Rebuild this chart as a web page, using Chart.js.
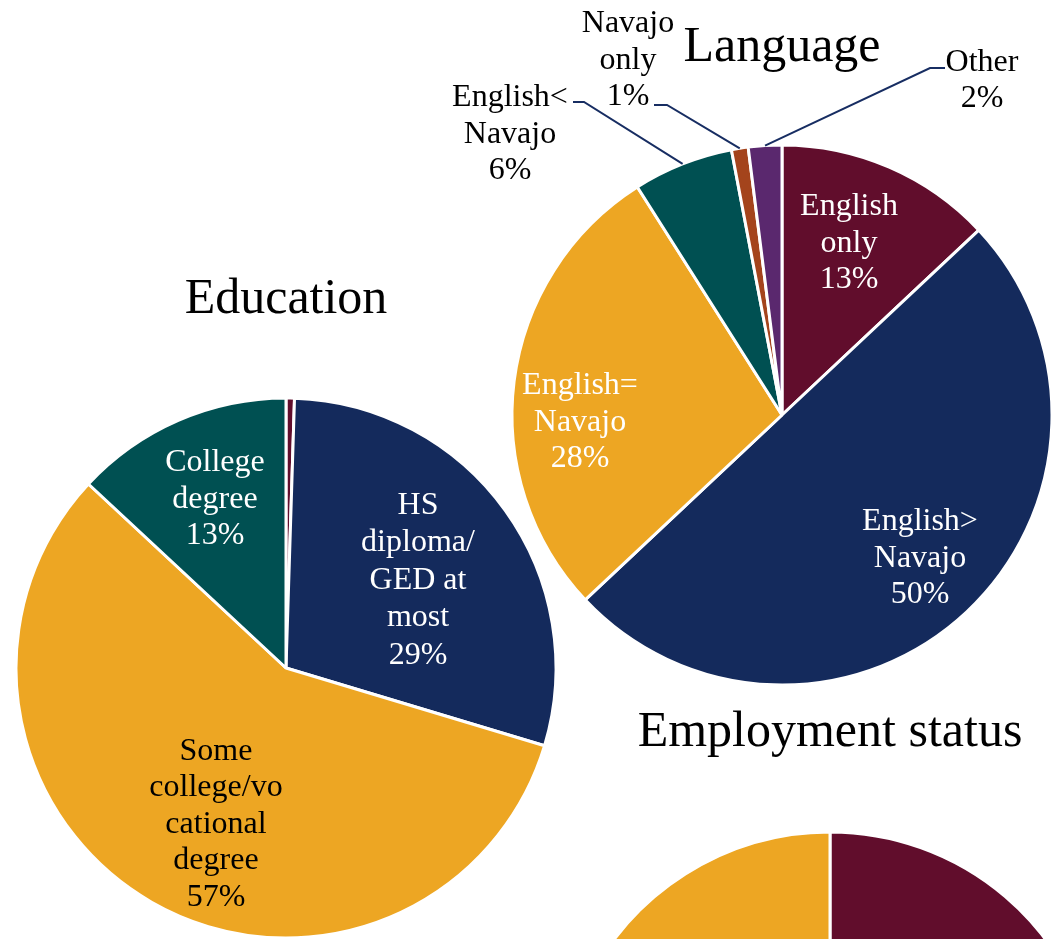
<!DOCTYPE html>
<html>
<head>
<meta charset="utf-8">
<title>Survey profile: language, education, employment</title>
<script src="https://cdn.jsdelivr.net/npm/chart.js@4.4.1/dist/chart.umd.min.js"></script>
<style>
  html, body { margin: 0; padding: 0; background: #ffffff; overflow: hidden; width: 1051px; height: 939px; }
  canvas { position: absolute; left: 0; top: 0; }
</style>
</head>
<body>
<canvas id="education" width="1051" height="939"></canvas>
<canvas id="language" width="1051" height="939"></canvas>
<canvas id="employment" width="1051" height="1400"></canvas>
<script>
// ---- data ----
const languageCategories = ['English only', 'English> Navajo', 'English= Navajo', 'English< Navajo', 'Navajo only', 'Other'];
const languageLines = [['English', 'only'], ['English>', 'Navajo'], ['English=', 'Navajo'], ['English<', 'Navajo'], ['Navajo', 'only'], ['Other']];
const languageValues = [13, 50, 28, 6, 1, 2];

const educationCategories = ['Less than HS', 'HS diploma/GED at most', 'Some college/vocational degree', 'College degree'];
const educationLines = [[], ['HS', 'diploma/', 'GED at', 'most'], ['Some', 'college/vo', 'cational', 'degree'], ['College', 'degree']];
const educationValues = [0.5, 29, 57, 13];

const employmentCategories = ['Employed', 'Unemployed', 'Not in labor force'];
const employmentLines = [['Employed'], ['Unemployed'], ['Not in', 'labor force']];
const employmentValues = [45, 19, 36];

// ---- palette ----
const WINE = '#610D2C', NAVY = '#142A5C', GOLD = '#EDA623', TEAL = '#005052', RUST = '#A4441C', PLUM = '#5A286E';
const WHITE = '#FFFFFF', BLACK = '#000000';
const SERIF = '"Liberation Serif", "Times New Roman", serif';

// Draws the chart title above the pie and the category / percent labels,
// with elbow leader lines for the labels placed outside the pie.
const pieText = {
  id: 'pieText',
  afterDatasetsDraw(chart, args, opts) {
    const ctx = chart.ctx;
    const meta = chart.getDatasetMeta(0);
    const values = chart.data.datasets[0].data;
    const first = meta.data[0];
    const cx = first.x, cy = first.y, R = first.outerRadius;
    ctx.save();
    ctx.textAlign = 'center';

    ctx.font = opts.titleSize + 'px ' + SERIF;
    ctx.fillStyle = BLACK;
    ctx.textBaseline = 'alphabetic';
    ctx.fillText(opts.title, cx, cy - opts.titleRise);

    ctx.font = opts.labelSize + 'px ' + SERIF;
    ctx.textBaseline = 'middle';
    meta.data.forEach((arc, i) => {
      const spec = opts.labels[i];
      if (!spec) return;
      const mid = (arc.startAngle + arc.endAngle) / 2;
      let lx, ly;
      if (spec.r !== undefined) {
        lx = cx + Math.cos(mid) * R * spec.r;
        ly = cy + Math.sin(mid) * R * spec.r;
      } else {
        lx = cx + spec.dx;
        ly = cy + spec.dy;
      }
      if (spec.leader) {
        ctx.strokeStyle = opts.leaderColor;
        ctx.lineWidth = 2;
        ctx.beginPath();
        ctx.moveTo(cx + Math.cos(mid) * R, cy + Math.sin(mid) * R);
        spec.leader.forEach(p => ctx.lineTo(cx + p[0], cy + p[1]));
        ctx.stroke();
      }
      const lines = opts.lines[i].concat([values[i] + '%']);
      const lh = spec.lineHeight || opts.lineHeight;
      ctx.fillStyle = spec.color;
      // small baseline correction so the glyphs sit visually centred
      lines.forEach((t, k) => ctx.fillText(t, lx, ly + 2.5 + (k - (lines.length - 1) / 2) * lh));
    });
    ctx.restore();
  }
};

// One pie per canvas; padding puts the centre of the chart area at (cx, cy).
function makePie(id, cx, cy, radius, categories, values, colors, text) {
  const canvas = document.getElementById(id);
  const W = canvas.width, H = canvas.height;
  const padX = 2 * cx - W, padY = 2 * cy - H;
  return new Chart(canvas, {
    type: 'pie',
    data: {
      labels: categories,
      datasets: [{
        data: values,
        backgroundColor: colors,
        borderColor: WHITE,
        borderWidth: 3,
        radius: radius
      }]
    },
    options: {
      responsive: false,
      animation: false,
      events: [],
      layout: {
        padding: {
          left: Math.max(padX, 0), right: Math.max(-padX, 0),
          top: Math.max(padY, 0), bottom: Math.max(-padY, 0)
        }
      },
      plugins: {
        legend: { display: false },
        tooltip: { enabled: false },
        title: { display: false },
        pieText: text
      }
    },
    plugins: [pieText]
  });
}

const LEADER = '#172D62';

makePie('language', 782, 415, 270, languageCategories, languageValues,
  [WINE, NAVY, GOLD, TEAL, RUST, PLUM], {
    title: 'Language', titleSize: 50, titleRise: 354,
    labelSize: 32, lineHeight: 36.5, leaderColor: LEADER,
    lines: languageLines,
    labels: [
      { dx: 67, dy: -174, color: WHITE },
      { dx: 138, dy: 141, color: WHITE },
      { dx: -202, dy: 5, color: WHITE },
      { dx: -272, dy: -283, color: BLACK, leader: [[-198, -313], [-209, -313]] },
      { dx: -154, dy: -357, color: BLACK, leader: [[-115, -310], [-128, -310]] },
      { dx: 200, dy: -337, color: BLACK, leader: [[148, -347], [163, -347]] }
    ]
  });

makePie('education', 286, 668, 270, educationCategories, educationValues,
  [WINE, NAVY, GOLD, TEAL], {
    title: 'Education', titleSize: 50, titleRise: 355,
    labelSize: 32, lineHeight: 36.5, leaderColor: LEADER,
    lines: educationLines,
    labels: [
      null,
      { dx: 132, dy: -90, color: WHITE, lineHeight: 37.5 },
      { dx: -70, dy: 154, color: BLACK },
      { dx: -71, dy: -171, color: WHITE }
    ]
  });

makePie('employment', 830, 1102, 270, employmentCategories, employmentValues,
  [WINE, NAVY, GOLD], {
    title: 'Employment status', titleSize: 50, titleRise: 356,
    labelSize: 32, lineHeight: 36.5, leaderColor: LEADER,
    lines: employmentLines,
    labels: [
      { r: 0.65, color: WHITE },
      { r: 0.65, color: WHITE },
      { r: 0.65, color: BLACK }
    ]
  });
</script>
</body>
</html>
